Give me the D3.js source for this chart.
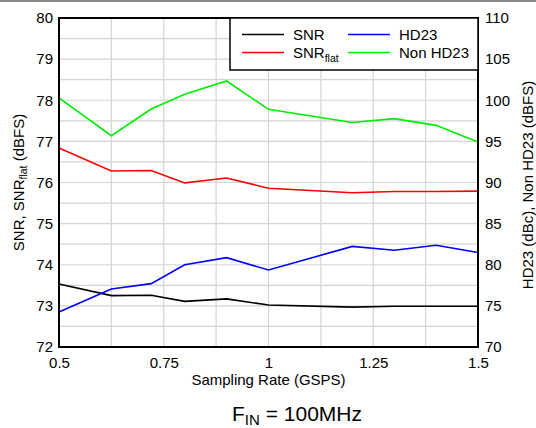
<!DOCTYPE html>
<html><head><meta charset="utf-8">
<script src="https://cdn.jsdelivr.net/npm/d3@7"></script>
<style>body{margin:0;background:#fff}svg{display:block;font-family:"Liberation Sans",Arial,sans-serif}</style>
</head><body><svg id="c" width="536" height="428"></svg>
<script>
const rates = [0.5, 0.625, 0.72, 0.8, 0.9, 1.0, 1.2, 1.3, 1.4, 1.5];
const snr = [73.53, 73.25, 73.26, 73.11, 73.17, 73.02, 72.97, 72.99, 72.99, 72.99];
const snrFlat = [76.84, 76.28, 76.29, 75.99, 76.11, 75.86, 75.75, 75.78, 75.78, 75.79];
const hd23 = [74.25, 77.05, 77.7, 80.0, 80.86, 79.36, 82.23, 81.76, 82.37, 81.48];
const nonHd23 = [100.3, 95.69, 98.94, 100.72, 102.34, 98.9, 97.3, 97.76, 96.95, 94.92];
const xTicks = [0.5, 0.75, 1, 1.25, 1.5];
const xTickLabels = ["0.5", "0.75", "1", "1.25", "1.5"];
const yLeftTicks = [72, 73, 74, 75, 76, 77, 78, 79, 80];
const yRightTicks = [70, 75, 80, 85, 90, 95, 100, 105, 110];

const svg = d3.select("#c");
const L = 59, R = 478, T = 18, B = 347;
const x = d3.scaleLinear().domain([0.5, 1.5]).range([L, R]);
const yl = d3.scaleLinear().domain([72, 80]).range([B, T]);
const yr = d3.scaleLinear().domain([70, 110]).range([B, T]);

svg.append("rect").attr("x",0).attr("y",0).attr("width",536).attr("height",2).attr("fill","#888");

// grid
const g = svg.append("g");
g.selectAll("line.v").data(d3.range(0.5, 1.5001, 0.125)).join("line")
  .attr("x1", d=>x(d)).attr("x2", d=>x(d)).attr("y1", T).attr("y2", B)
  .attr("stroke", "#d4d4d4").attr("stroke-width", 1.2);
g.selectAll("line.h").data(d3.range(72, 80.001, 0.5)).join("line")
  .attr("y1", d=>yl(d)).attr("y2", d=>yl(d)).attr("x1", L).attr("x2", R)
  .attr("stroke", "#d4d4d4").attr("stroke-width", 1.2);

// lines
const series = [
  {vals: snr, y: yl, color: "#000000"},
  {vals: snrFlat, y: yl, color: "#ff0000"},
  {vals: hd23, y: yr, color: "#0000ff"},
  {vals: nonHd23, y: yr, color: "#00ee00"}
];
series.forEach(s => {
  const line = d3.line().x((d,i)=>x(rates[i])).y(d=>s.y(d));
  svg.append("path").attr("d", line(s.vals)).attr("fill","none")
    .attr("stroke", s.color).attr("stroke-width", 1.6);
});

// frame
svg.append("rect").attr("x",L).attr("y",T).attr("width",R-L).attr("height",B-T)
  .attr("fill","none").attr("stroke","#000").attr("stroke-width",2);

// axes
const fs = "15px";
const ax = svg.append("g").attr("transform",`translate(0,${B})`)
  .call(d3.axisBottom(x).tickValues(xTicks).tickFormat((d,i)=>xTickLabels[i]).tickSize(0).tickPadding(10));
const ayl = svg.append("g").attr("transform",`translate(${L},0)`)
  .call(d3.axisLeft(yl).tickValues(yLeftTicks).tickFormat(d3.format("d")).tickSize(0).tickPadding(6));
const ayr = svg.append("g").attr("transform",`translate(${R},0)`)
  .call(d3.axisRight(yr).tickValues(yRightTicks).tickFormat(d3.format("d")).tickSize(0).tickPadding(7));
[ax, ayl, ayr].forEach(a => {
  a.select(".domain").remove();
  a.selectAll("text").attr("font-size", fs).attr("font-family", '"Liberation Sans",Arial,sans-serif').attr("fill","#000");
});

// axis titles
svg.append("text").attr("x", (L+R)/2).attr("y", 385).attr("text-anchor","middle")
  .attr("font-size","15px").text("Sampling Rate (GSPS)");
const lt = svg.append("text").attr("transform",`translate(24,${(T+B)/2}) rotate(-90)`)
  .attr("text-anchor","middle").attr("font-size","15px");
lt.append("tspan").text("SNR, SNR");
lt.append("tspan").attr("font-size","10.5px").attr("dy",3).text("flat");
lt.append("tspan").attr("dy",-3).text(" (dBFS)");
svg.append("text").attr("transform",`translate(533,${185}) rotate(-90)`)
  .attr("text-anchor","middle").attr("font-size","15px").text("HD23 (dBc), Non HD23 (dBFS)");

// title
const tt = svg.append("text").attr("x", 297).attr("y", 421).attr("text-anchor","middle").attr("font-size","21px");
tt.append("tspan").text("F");
tt.append("tspan").attr("font-size","15px").attr("dy",4).text("IN");
tt.append("tspan").attr("dy",-4).text(" = 100MHz");

// legend
const lg = svg.append("g");
lg.append("rect").attr("x",230).attr("y",T).attr("width",R-230).attr("height",52)
  .attr("fill","#fff").attr("stroke","#000").attr("stroke-width",1.5);
const legItems = [
  {name:"SNR", sub:null, color:"#000000", lx:242, ly:34.5},
  {name:"SNR", sub:"flat", color:"#ff0000", lx:242, ly:52.5},
  {name:"HD23", sub:null, color:"#0000ff", lx:348, ly:34.5},
  {name:"Non HD23", sub:null, color:"#00ee00", lx:348, ly:52.5}
];
legItems.forEach(it => {
  lg.append("line").attr("x1",it.lx).attr("x2",it.lx+42).attr("y1",it.ly).attr("y2",it.ly)
    .attr("stroke",it.color).attr("stroke-width",1.6);
  const t = lg.append("text").attr("x",it.lx+51).attr("y",it.ly+5.5).attr("font-size","15px");
  t.append("tspan").text(it.name);
  if (it.sub) t.append("tspan").attr("font-size","10.5px").attr("dy",4).text(it.sub);
});
</script></body></html>
